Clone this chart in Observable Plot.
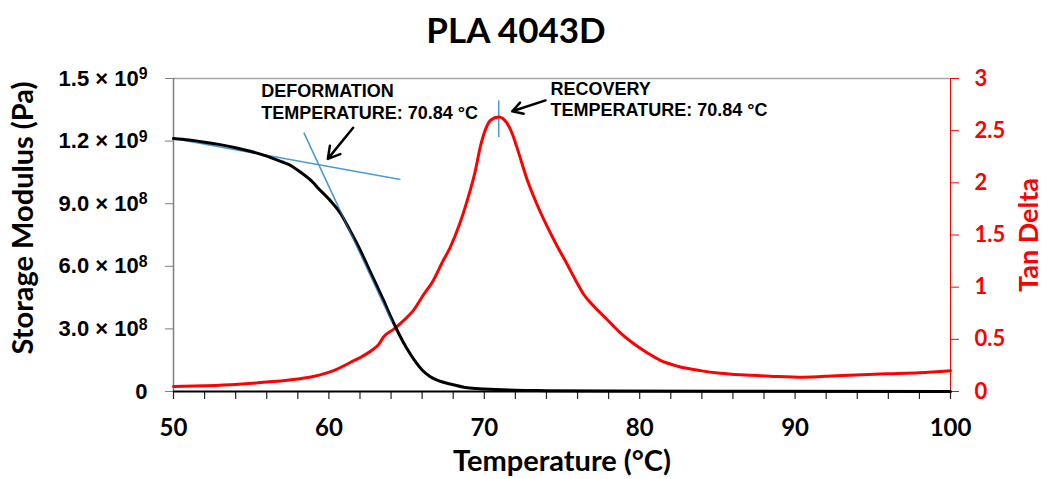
<!DOCTYPE html>
<html><head><meta charset="utf-8">
<script src="https://cdn.jsdelivr.net/npm/d3@7"></script>
<script src="https://cdn.jsdelivr.net/npm/@observablehq/plot@0.6"></script>
<style>body{margin:0;background:#fff}</style>
</head><body><div id="chart"></div>
<script>
// ---- data ----
const title = "PLA 4043D";
const xLabel = "Temperature (°C)";
const leftLabel = "Storage Modulus (Pa)";
const rightLabel = "Tan Delta";

// Storage modulus (Pa) vs temperature (°C)
const modT = [50, 51, 52, 53, 54, 55, 56, 57, 57.5, 58, 59, 59.25, 60, 60.75, 61.3, 62, 62.5, 63, 63.5, 64, 64.5, 65, 65.5, 66, 66.5, 67, 67.8, 68.9, 70, 72, 74, 78, 85, 100];
const modV = [1.212e9, 1.205e9, 1.195e9, 1.183e9, 1.168e9, 1.150e9, 1.128e9, 1.100e9, 1.085e9, 1.060e9, 1.000e9, 0.979e9, 0.922e9, 0.853e9, 0.780e9, 0.680e9, 0.600e9, 0.520e9, 0.440e9, 0.355e9, 0.277e9, 0.208e9, 0.150e9, 0.103e9, 0.072e9, 0.053e9, 0.036e9, 0.018e9, 0.012e9, 0.006e9, 0.004e9, 0.002e9, 0.001e9, 0.0005e9];

// Tan delta vs temperature (°C)
const tanT = [50, 52, 54, 56, 58, 59, 60.3, 61.4, 62.3, 62.9, 63.2, 63.5, 64.2, 64.8, 65.4, 66.1, 66.7, 67.3, 67.8, 68.4, 68.9, 69.4, 69.75, 70.1, 70.4, 70.93, 71.47, 71.8, 72.1, 72.76, 73.4, 74.05, 74.7, 75.33, 75.9, 76.4, 77.1, 77.9, 78.7, 79.6, 80.5, 81.3, 82.5, 83.9, 85.2, 86.5, 88.4, 90.5, 92.7, 95.9, 98, 100];
const tanV = [0.048, 0.055, 0.067, 0.09, 0.12, 0.144, 0.20, 0.28, 0.35, 0.41, 0.45, 0.52, 0.60, 0.68, 0.77, 0.93, 1.06, 1.24, 1.38, 1.60, 1.83, 2.10, 2.35, 2.52, 2.60, 2.63, 2.57, 2.47, 2.34, 2.03, 1.79, 1.58, 1.39, 1.22, 1.06, 0.93, 0.81, 0.69, 0.57, 0.46, 0.37, 0.30, 0.24, 0.20, 0.175, 0.16, 0.147, 0.137, 0.152, 0.17, 0.18, 0.20];

// axes
const xTicks = [50, 60, 70, 80, 90, 100];
const xMinorTicks = d3.range(50, 101, 2);
const leftTicks = [0, 3e8, 6e8, 9e8, 1.2e9, 1.5e9];
const leftTickLabels = ["0", "3.0 × 10^8", "6.0 × 10^8", "9.0 × 10^8", "1.2 × 10^9", "1.5 × 10^9"];
const tanTicks = [0, 0.5, 1, 1.5, 2, 2.5, 3];
const tanTickLabels = ["0", "0.5", "1", "1.5", "2", "2.5", "3"];
const tanMax = 3, modMax = 1.5e9;
const K = modMax / tanMax; // maps tan delta onto the modulus scale

// tangent construction lines (temperature, modulus) and peak marker (temperature, tan delta)
const tangentLines = [
  {x1: 50, y1: 1.212e9, x2: 64.6, y2: 1.016e9},
  {x1: 58.39, y1: 1.240e9, x2: 64.07, y2: 0.332e9}
];
const peakMarker = {t: 70.93, tanLo: 2.44, tanHi: 2.79};

const arrows = [
  {x1: 61.56, y1: 1.264e9, x2: 59.93, y2: 1.115e9},
  {x1: 73.94, y1: 1.395e9, x2: 71.80, y2: 1.343e9}
];
const notes = [
  {x: 55.64, y: 1.4104e9, text: "DEFORMATION"},
  {x: 55.64, y: 1.3083e9, text: "TEMPERATURE: 70.84 °C"},
  {x: 74.26, y: 1.4233e9, text: "RECOVERY"},
  {x: 74.26, y: 1.3193e9, text: "TEMPERATURE: 70.84 °C"}
];

// ---- build ----
const modData = modT.map((t, i) => ({t, v: modV[i]}));
const tanData = tanT.map((t, i) => ({t, v: tanV[i] * K}));
const blue = "#4a9ad6";
const calib = "Lato, 'Open Sans', sans-serif";
const arial = "'Liberation Sans', Arial, sans-serif";

const links = [
  ...tangentLines,
  {x1: peakMarker.t, y1: peakMarker.tanLo * K, x2: peakMarker.t, y2: peakMarker.tanHi * K}
];

const chart = Plot.plot({
  width: 1046, height: 479,
  marginTop: 78, marginBottom: 88, marginLeft: 173, marginRight: 96,
  style: {background: "#fff", overflow: "visible"},
  x: {domain: [50, 100], label: null},
  y: {domain: [0, modMax], label: null},
  marks: [
    Plot.ruleY([modMax], {stroke: "#a6a6a6", strokeWidth: 1.5}),
    Plot.ruleX([50], {stroke: "#7f7f7f", strokeWidth: 1.5}),
    Plot.ruleX([100], {stroke: "#ff0000", strokeWidth: 1}),
    Plot.axisX({ticks: xMinorTicks, tickSize: 8, tickFormat: () => "", stroke: "#222", strokeWidth: 1.2, label: null}),
    Plot.axisX({ticks: xTicks, tickSize: 0, tickPadding: 27, tickFormat: d => String(d), fontSize: 24, fontFamily: calib, fontWeight: "bold", fill: "#000", label: null}),
    Plot.axisY({anchor: "left", ticks: leftTicks, tickSize: 8, tickPadding: 18, tickFormat: d => leftTickLabels[leftTicks.indexOf(d)], fontSize: 22, fontFamily: arial, fontWeight: "bold", fill: "#000", stroke: "#7f7f7f", label: null}),
    Plot.axisY({anchor: "right", ticks: tanTicks.map(d => d * K), tickSize: 8, tickPadding: 16, tickFormat: d => tanTickLabels[tanTicks.indexOf(Math.round(d / K * 10) / 10)], fontSize: 22, fontFamily: calib, fontWeight: "bold", fill: "#ff0000", stroke: "#ff0000", label: null}),
    Plot.link(links, {x1: "x1", y1: "y1", x2: "x2", y2: "y2", stroke: blue, strokeWidth: 1.5}),
    Plot.line(tanData, {x: "t", y: "v", stroke: "#ff0000", strokeWidth: 3, curve: "monotone-x"}),
    Plot.line(modData, {x: "t", y: "v", stroke: "#000", strokeWidth: 3, curve: "monotone-x"}),
    Plot.link(tangentLines.slice(1), {x1: "x1", y1: "y1", x2: "x2", y2: "y2", stroke: blue, strokeWidth: 1.2, strokeOpacity: 0.6}),
    Plot.ruleY([0], {stroke: "#000", strokeWidth: 2}),
    Plot.arrow(arrows, {x1: "x1", y1: "y1", x2: "x2", y2: "y2", stroke: "#000", strokeWidth: 2.5, headLength: 11}),
    Plot.text(notes, {x: "x", y: "y", text: "text", textAnchor: "start", lineAnchor: "bottom", fontFamily: arial, fontWeight: "bold", fontSize: 18, fill: "#000"}),
    Plot.text([title], {frameAnchor: "top", dx: -46, dy: -36, text: d => d, textAnchor: "middle", lineAnchor: "bottom", fontFamily: calib, fontWeight: "bold", fontSize: 35, fill: "#000"}),
    Plot.text([xLabel], {frameAnchor: "bottom", dx: 0, dy: 79, text: d => d, textAnchor: "middle", lineAnchor: "bottom", fontFamily: calib, fontWeight: "bold", fontSize: 29, fill: "#000"}),
    Plot.text([leftLabel], {frameAnchor: "left", dx: -141, dy: -17, rotate: -90, text: d => d, textAnchor: "middle", lineAnchor: "bottom", fontFamily: calib, fontWeight: "bold", fontSize: 29, fill: "#000"}),
    Plot.text([rightLabel], {frameAnchor: "right", dx: 87, dy: 0, rotate: -90, text: d => d, textAnchor: "middle", lineAnchor: "bottom", fontFamily: calib, fontWeight: "bold", fontSize: 27, fill: "#ff0000"})
  ]
});

// superscript exponents on the left axis
d3.select(chart).selectAll("text").each(function () {
  const s = this.textContent;
  if (s.includes("^") && this.children.length === 0) {
    const [m, e] = s.split("^");
    this.textContent = m;
    d3.select(this).append("tspan").attr("dy", "-0.4em").attr("font-size", "0.72em").text(e);
  }
});

document.getElementById("chart").appendChild(chart);
</script>
</body></html>
